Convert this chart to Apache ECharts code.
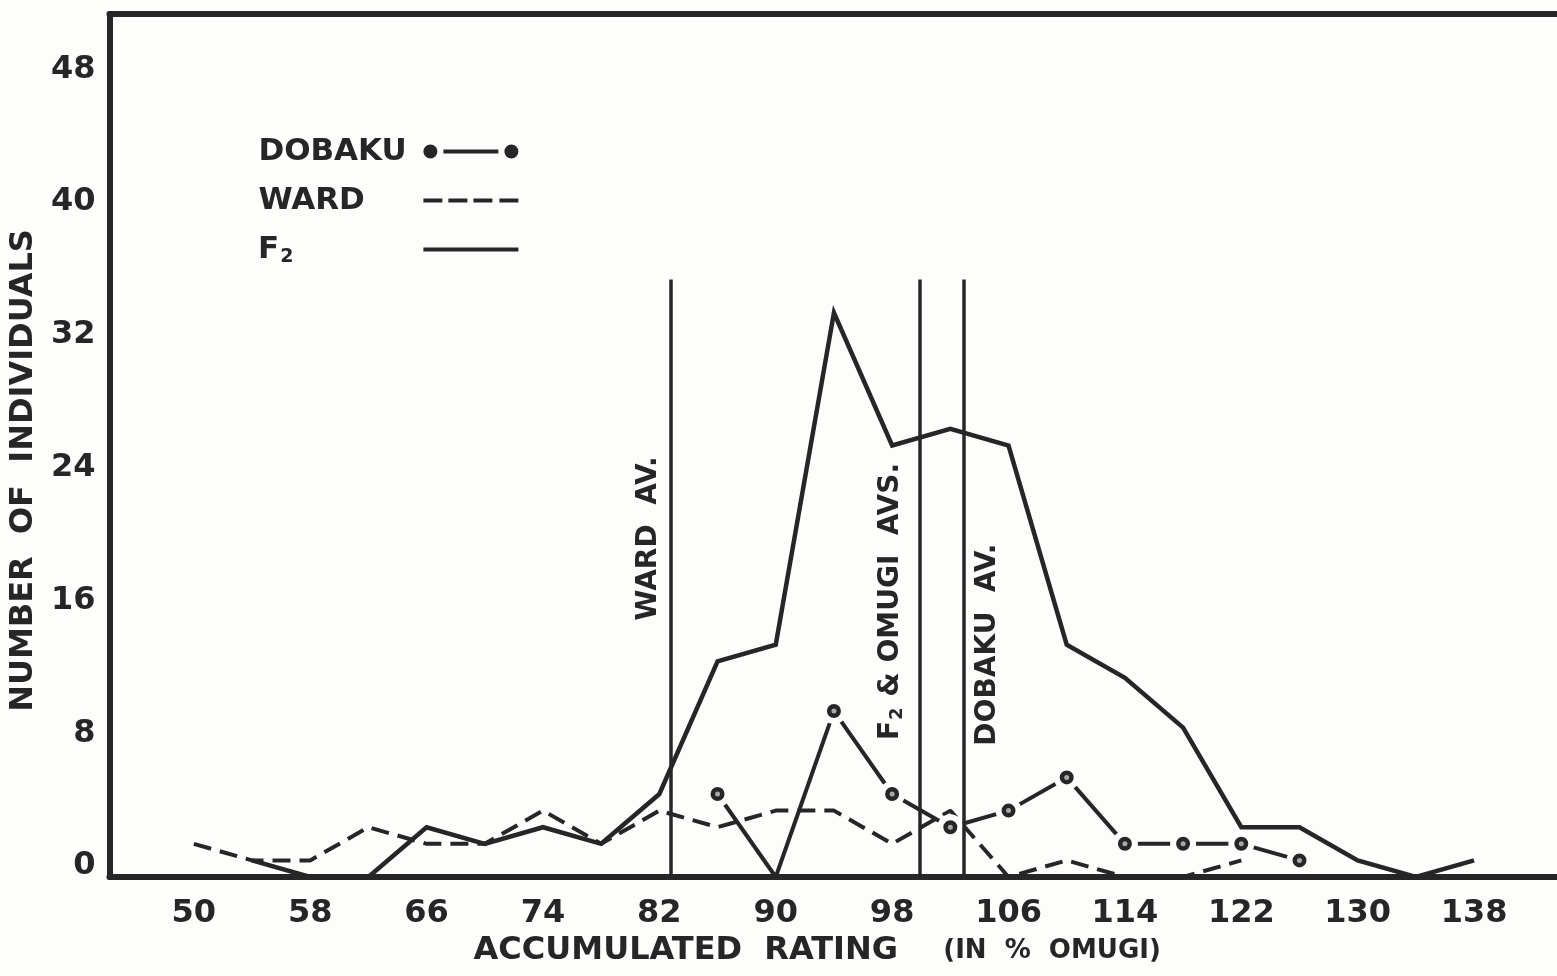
<!DOCTYPE html>
<html>
<head>
<meta charset="utf-8">
<title>Accumulated rating distribution</title>
<script src="https://cdn.jsdelivr.net/npm/echarts@6/dist/echarts.min.js"></script>
<style>
  html, body { margin: 0; padding: 0; background: #fdfdfb; }
  #chart { width: 1557px; height: 976px; }
</style>
</head>
<body>
<div id="chart"></div>
<script>
// Frequency of individuals per accumulated-rating class (in % of Omugi)
const f2Rating = [54, 58, 62, 66, 70, 74, 78, 82, 86, 90, 94, 98, 102, 106, 110, 114, 118, 122, 126, 130, 134, 138];
const f2Count  = [1, 0, 0, 3, 2, 3, 2, 5, 13, 14, 34, 26, 27, 26, 14, 12, 9, 3, 3, 1, 0, 1];

const wardRating = [50, 54, 58, 62, 66, 70, 74, 78, 82, 86, 90, 94, 98, 102, 106, 110, 114, 118, 122];
const wardCount  = [2, 1, 1, 3, 2, 2, 4, 2, 4, 3, 4, 4, 2, 4, 0, 1, 0, 0, 1];

const dobakuRating = [86, 90, 94, 98, 102, 106, 110, 114, 118, 122, 126];
const dobakuCount  = [5, 0, 10, 5, 3, 4, 6, 2, 2, 2, 1];

// Averages of each population (vertical reference lines)
const wardAverage = 82.8;
const f2OmugiAverage = 99.9;
const dobakuAverage = 102.9;
const averageLineTop = 36;

// Tick labels
const xTickLabels = [50, 58, 66, 74, 82, 90, 98, 106, 114, 122, 130, 138];
const yTickLabels = [0, 8, 16, 24, 32, 40, 48];

const INK = '#262626';
const PAPER = '#fdfdfb';
const FONT = 'DejaVu Sans';

const pairs = (xs, ys) => xs.map((x, i) => [x, ys[i]]);

// Legend keys: circle–line–circle, dashes, plain rule
const ICON_DOBAKU = 'path://M0,7a7,7 0 1,0 14,0a7,7 0 1,0 -14,0zM20,5h55v4h-55zM81,7a7,7 0 1,0 14,0a7,7 0 1,0 -14,0z';
const ICON_WARD = 'path://M0,5h19v4h-19zM25,5h19v4h-19zM50,5h19v4h-19zM76,5h19v4h-19z';
const ICON_F2 = 'path://M0,5h95v4h-95z';

const chart = echarts.init(document.getElementById('chart'), null, { renderer: 'canvas' });

const xRange = { min: 44.2, max: 143.7 };

// legend names share one column width so the keys line up on the right
const legendRich = {
  n: { width: 160, align: 'left', fontSize: 31, fontWeight: 'bold', fontFamily: FONT, color: INK },
  f: { fontSize: 31, fontWeight: 'bold', fontFamily: FONT, color: INK },
  s: { fontSize: 19, fontWeight: 'bold', fontFamily: FONT, color: INK, padding: [16, 0, 0, 1] },
  p: { width: 125, fontSize: 31 }
};

const annotationRich = {
  t: { fontSize: 28, fontWeight: 'bold', fontFamily: FONT, color: INK },
  s: { fontSize: 18, fontWeight: 'bold', fontFamily: FONT, color: INK, padding: [14, 1, 0, 1] }
};

const option = {
  backgroundColor: PAPER,
  animation: false,
  textStyle: { fontFamily: FONT, color: INK },
  grid: { left: 107, right: 0, top: 14, bottom: 99, containLabel: false },
  legend: {
    orient: 'vertical',
    left: 253,
    top: 131,
    align: 'right',
    itemWidth: 95,
    itemHeight: 14,
    itemGap: 18,
    selectedMode: false,
    itemStyle: { color: INK, borderWidth: 0 },
    textStyle: { color: INK, fontFamily: FONT, fontWeight: 'bold', fontSize: 31, rich: legendRich },
    formatter: name => (name === 'F₂' ? '{f|F}{s|2}{p| }' : '{n|' + name + '}'),
    data: [
      { name: 'DOBAKU', icon: ICON_DOBAKU },
      { name: 'WARD', icon: ICON_WARD },
      { name: 'F₂', icon: ICON_F2 }
    ]
  },
  xAxis: [
    {
      type: 'value',
      min: xRange.min,
      max: xRange.max,
      position: 'bottom',
      name: '{a|ACCUMULATED  RATING}{b|     (IN  %  OMUGI)}',
      nameLocation: 'middle',
      nameGap: 58,
      nameTextStyle: {
        padding: [0, 32, 0, 0],
        rich: {
          a: { fontFamily: FONT, fontWeight: 'bold', fontSize: 32, color: INK },
          b: { fontFamily: FONT, fontWeight: 'bold', fontSize: 26, color: INK }
        }
      },
      axisLine: { show: true, onZero: false, lineStyle: { color: INK, width: 6 } },
      axisTick: { show: false },
      splitLine: { show: false },
      axisLabel: {
        customValues: xTickLabels,
        margin: 21,
        fontFamily: FONT,
        fontWeight: 'bold',
        fontSize: 32,
        color: INK
      }
    },
    {
      // top frame line
      type: 'value',
      min: xRange.min,
      max: xRange.max,
      position: 'top',
      axisLine: { show: true, onZero: false, lineStyle: { color: INK, width: 6 } },
      axisTick: { show: false },
      axisLabel: { show: false },
      splitLine: { show: false }
    }
  ],
  yAxis: {
    type: 'value',
    min: 0,
    max: 52,
    interval: 8,
    name: 'NUMBER  OF  INDIVIDUALS',
    nameLocation: 'middle',
    nameRotate: 90,
    nameGap: 57,
    nameTextStyle: {
      fontFamily: FONT,
      fontWeight: 'bold',
      fontSize: 32,
      color: INK,
      padding: [0, 50, 0, 0]
    },
    axisLine: { show: true, onZero: false, lineStyle: { color: INK, width: 6 } },
    axisTick: { show: false },
    splitLine: { show: false },
    axisLabel: {
      customValues: yTickLabels,
      margin: 14,
      verticalAlign: 'bottom',
      lineHeight: 22,
      fontFamily: FONT,
      fontWeight: 'bold',
      fontSize: 32,
      color: INK
    }
  },
  series: [
    {
      name: 'F₂',
      type: 'line',
      data: pairs(f2Rating, f2Count),
      symbol: 'none',
      lineStyle: { color: INK, width: 4.5, join: 'miter' },
      itemStyle: { color: INK },
      z: 3,
      markLine: {
        silent: true,
        symbol: 'none',
        label: { show: false },
        lineStyle: { color: INK, width: 3.5, type: 'solid' },
        data: [
          [{ coord: [wardAverage, 0] }, { coord: [wardAverage, averageLineTop] }],
          [{ coord: [f2OmugiAverage, 0] }, { coord: [f2OmugiAverage, averageLineTop] }],
          [{ coord: [dobakuAverage, 0] }, { coord: [dobakuAverage, averageLineTop] }]
        ]
      },
      markPoint: {
        silent: true,
        symbol: 'circle',
        symbolSize: 0,
        label: {
          show: true,
          position: 'inside',
          rotate: 90,
          fontFamily: FONT,
          fontWeight: 'bold',
          fontSize: 28,
          color: INK,
          rich: annotationRich
        },
        data: [
          { coord: [81.3, 20.4], value: 'WARD AV.', label: { formatter: '{t|WARD  AV.}' } },
          { coord: [97.9, 16.6], value: 'F2 & OMUGI AVS.', label: { formatter: '{t|F}{s|2}{t| & OMUGI  AVS.}' } },
          { coord: [104.6, 14.0], value: 'DOBAKU AV.', label: { formatter: '{t|DOBAKU  AV.}' } }
        ]
      }
    },
    {
      name: 'WARD',
      type: 'line',
      data: pairs(wardRating, wardCount),
      symbol: 'none',
      lineStyle: { color: INK, width: 4, type: [18, 9] },
      itemStyle: { color: INK },
      z: 2
    },
    {
      name: 'DOBAKU',
      type: 'line',
      data: pairs(dobakuRating, dobakuCount),
      // a zero class is passed through by the line without a marker
      symbol: v => (v[1] === 0 ? 'none' : 'circle'),
      symbolSize: 20,
      showAllSymbol: true,
      lineStyle: { color: INK, width: 4 },
      itemStyle: { color: INK, borderColor: PAPER, borderWidth: 6 },
      z: 4
    },
    {
      // light centre of the Dobaku markers
      name: 'DOBAKU centre',
      type: 'scatter',
      data: pairs(dobakuRating, dobakuCount).filter(p => p[1] !== 0),
      symbol: 'circle',
      symbolSize: 5,
      itemStyle: { color: '#c9c9c9' },
      silent: true,
      z: 5
    }
  ]
};

chart.setOption(option);
</script>
</body>
</html>
